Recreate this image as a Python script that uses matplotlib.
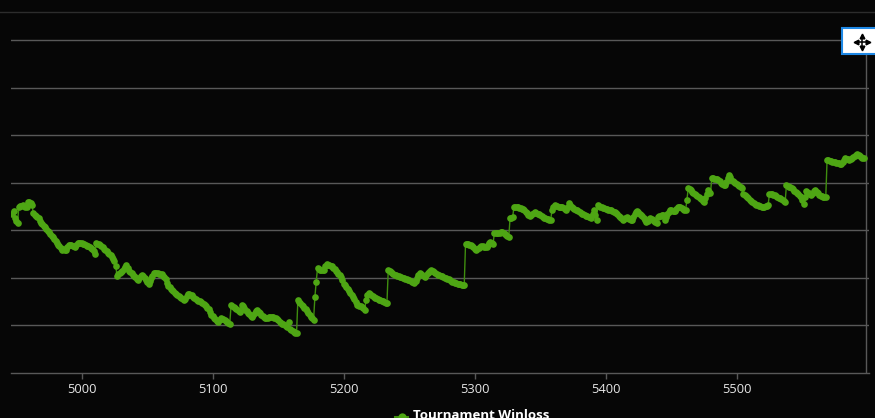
import matplotlib
matplotlib.use('Agg')
import matplotlib.pyplot as plt
from matplotlib.lines import Line2D
from matplotlib.patches import Rectangle
import numpy as np

# ---------------- data ----------------
first_game = 4947
winloss = [
    167, 170, 163, 160, 158, 175, 176, 176, 177, 176,
    175, 174, 180, 180, 179, 177, 168, 166, 165, 164,
    163, 160, 158, 157, 155, 153, 151, 149, 148, 146,
    144, 143, 141, 139, 137, 135, 133, 131, 129, 130,
    129, 129, 132, 135, 135, 135, 134, 133, 132, 135,
    137, 137, 137, 137, 136, 136, 135, 134, 133, 132,
    131, 130, 128, 125, 137, 136, 136, 135, 133, 132,
    130, 129, 128, 126, 125, 124, 122, 120, 118, 112,
    102, 104, 105, 106, 107, 109, 111, 113, 110, 107,
    106, 105, 103, 102, 101, 99, 98, 100, 102, 103,
    102, 100, 98, 96, 94, 97, 100, 102, 105, 105,
    105, 105, 104, 104, 104, 102, 101, 99, 95, 91,
    90, 88, 87, 86, 84, 83, 82, 81, 80, 79,
    78, 77, 78, 81, 83, 83, 82, 82, 80, 79,
    78, 77, 76, 76, 75, 74, 73, 72, 70, 68,
    67, 64, 61, 60, 58, 57, 55, 54, 56, 58,
    57, 57, 56, 55, 54, 53, 52, 71, 70, 69,
    68, 67, 66, 65, 64, 72, 70, 68, 66, 65,
    63, 62, 60, 59, 61, 63, 65, 66, 64, 63,
    61, 60, 59, 58, 58, 58, 59, 59, 59, 59,
    58, 58, 57, 56, 54, 53, 52, 51, 50, 49,
    48, 54, 46, 45, 44, 43, 42, 42, 77, 75,
    74, 72, 70, 68, 67, 65, 63, 61, 59, 58,
    56, 80, 96, 110, 109, 108, 108, 108, 108, 112,
    115, 114, 113, 112, 112, 110, 109, 107, 106, 104,
    103, 101, 98, 94, 92, 90, 88, 86, 84, 82,
    80, 78, 75, 71, 71, 70, 70, 69, 68, 66,
    77, 82, 84, 83, 82, 81, 80, 79, 79, 78,
    77, 77, 76, 76, 75, 74, 74, 108, 107, 106,
    105, 104, 103, 103, 102, 102, 101, 101, 100, 100,
    99, 99, 98, 98, 97, 96, 96, 95, 97, 100,
    103, 105, 104, 103, 102, 101, 103, 105, 106, 107,
    108, 107, 106, 105, 104, 103, 103, 102, 102, 101,
    100, 100, 99, 99, 98, 97, 96, 96, 95, 95,
    94, 94, 94, 93, 93, 93, 136, 136, 136, 135,
    135, 134, 132, 130, 129, 130, 131, 132, 133, 133,
    132, 132, 132, 135, 137, 138, 137, 136, 147, 147,
    147, 147, 147, 148, 148, 147, 146, 145, 144, 143,
    163, 163, 164, 175, 175, 174, 174, 173, 173, 172,
    172, 171, 169, 168, 166, 165, 166, 167, 168, 169,
    168, 167, 167, 166, 165, 164, 163, 163, 162, 162,
    161, 161, 171, 174, 177, 176, 176, 175, 175, 174,
    174, 173, 172, 171, 174, 179, 177, 175, 173, 172,
    171, 171, 170, 169, 168, 167, 167, 166, 165, 165,
    164, 164, 163, 167, 171, 166, 161, 177, 176, 175,
    174, 173, 173, 172, 172, 171, 171, 171, 170, 169,
    169, 168, 167, 165, 164, 163, 161, 162, 163, 164,
    163, 162, 161, 161, 164, 167, 169, 170, 169, 167,
    166, 165, 163, 161, 159, 160, 162, 163, 162, 161,
    160, 159, 158, 164, 165, 165, 166, 166, 161, 164,
    167, 169, 171, 171, 170, 170, 170, 172, 174, 175,
    174, 173, 172, 171, 171, 182, 194, 193, 192, 190,
    189, 188, 187, 186, 185, 184, 183, 181, 180, 184,
    188, 192, 190, 189, 205, 205, 204, 204, 204, 203,
    202, 200, 199, 198, 198, 201, 205, 208, 206, 203,
    202, 201, 200, 199, 198, 197, 195, 194, 188, 187,
    186, 185, 184, 182, 181, 180, 179, 178, 177, 177,
    176, 176, 175, 175, 175, 176, 176, 177, 188, 188,
    188, 187, 187, 186, 185, 184, 184, 183, 182, 181,
    180, 198, 197, 196, 195, 194, 193, 191, 190, 189,
    188, 186, 185, 182, 178, 185, 191, 190, 189, 188,
    187, 189, 191, 192, 190, 189, 187, 186, 186, 185,
    185, 185, 224, 224, 223, 223, 222, 222, 222, 221,
    221, 221, 220, 220, 222, 224, 226, 225, 225, 224,
    225, 226, 227, 228, 229, 230, 229, 228, 227, 226,
    226,
]
x_ticks = [5000, 5100, 5200, 5300, 5400, 5500]
grid_values = [50, 100, 150, 200, 250, 300, 350]
series_name = 'Tournament Winloss'

games = np.arange(first_game, first_game + len(winloss))

# ---------------- style ----------------
bg = '#060606'
grid_c = '#585858'
green = '#4ea614'
line_green = '#3f8e0f'

W, H = 875, 418
fig = plt.figure(figsize=(W / 100, H / 100), dpi=100, facecolor=bg)
ax = fig.add_axes([11 / W, 45 / H, 858 / W, 362 / H])
ax.set_facecolor(bg)

ax.plot(games, winloss, color=line_green, lw=1.0, marker='o', ms=4.8,
        mfc=green, mec='none', zorder=3)

ax.set_xlim(4946.0, 5601.0)
ax.set_ylim(0, 380.5)
ax.set_yticks(grid_values)
ax.yaxis.grid(True, color=grid_c, lw=1)
ax.tick_params(axis='y', left=False, labelleft=False)
ax.set_xticks(x_ticks)
ax.set_xticklabels([str(t) for t in x_ticks], family='Open Sans')
ax.tick_params(axis='x', colors=grid_c, length=4, width=1,
               labelcolor='#e6e6e6', labelsize=9.3, pad=3)
for s in ['top', 'right', 'left']:
    ax.spines[s].set_visible(False)
ax.spines['bottom'].set_color(grid_c)
ax.spines['bottom'].set_linewidth(1)

# vertical crosshair line near right edge
ax.plot([0.9962, 0.9962], [0, (373 - 54) / 362], transform=ax.transAxes,
        color=grid_c, lw=1, zorder=2)

# top border line
fig.add_artist(Line2D([0, 1], [1 - 11.5 / H, 1 - 11.5 / H], transform=fig.transFigure,
                      color='#2c2c2c', lw=1))

# move icon box
fig.add_artist(Rectangle((842 / W, 1 - 54 / H), 40 / W, 26 / H, transform=fig.transFigure,
                         facecolor='white', edgecolor='#1e88e5', lw=1.5, zorder=5))
cx, cy, r = 862.3, 41.7, 6.0
fx = lambda px: px / W
fy = lambda py: 1 - py / H
fig.add_artist(Line2D([fx(cx - r), fx(cx + r)], [fy(cy), fy(cy)], transform=fig.transFigure,
                      color='black', lw=1.1, zorder=6))
fig.add_artist(Line2D([fx(cx), fx(cx)], [fy(cy - r), fy(cy + r)], transform=fig.transFigure,
                      color='black', lw=1.1, zorder=6))
for mk, px, py in [('<', cx - r, cy), ('>', cx + r, cy), ('^', cx, cy - r), ('v', cx, cy + r)]:
    fig.add_artist(Line2D([fx(px)], [fy(py)], transform=fig.transFigure, marker=mk, ms=3.4,
                          color='black', linestyle='none', zorder=7))

# legend (cut off at bottom, as in the reference)
fig.add_artist(Line2D([395 / W, 408 / W], [1 - 417 / H, 1 - 417 / H], transform=fig.transFigure,
                      color=line_green, lw=1.5))
fig.add_artist(Line2D([402 / W], [1 - 417 / H], transform=fig.transFigure,
                      marker='o', ms=6, mfc=green, mec='none', linestyle='none'))
fig.text(413 / W, 1 - 409 / H, series_name, family='Open Sans', weight='bold',
         fontsize=9.5, color='white', va='top', ha='left')

fig.savefig('out.png', dpi=100, facecolor=bg)
